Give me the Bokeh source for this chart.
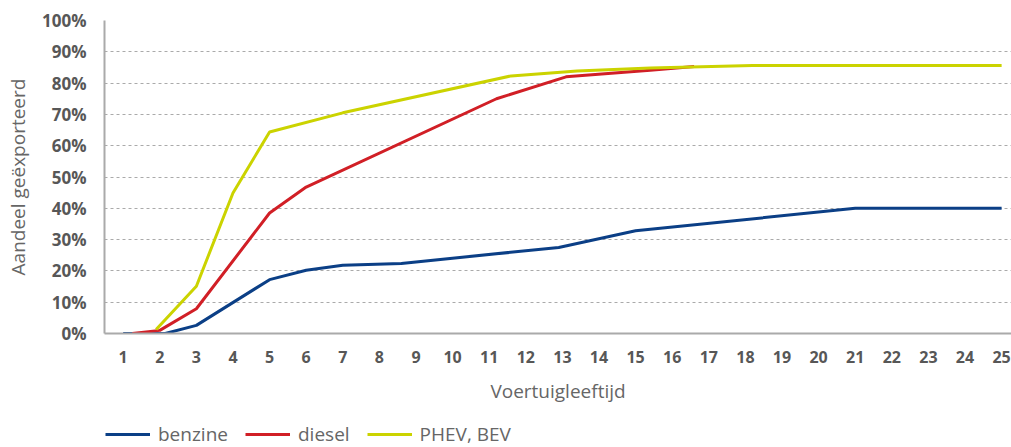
from bokeh.plotting import figure
from bokeh.layouts import column
from bokeh.models import Range1d, FixedTicker, Legend, LegendItem, PrintfTickFormatter
from bokeh.embed import file_html
from bokeh.resources import INLINE

# ---- data ----
age_ticks = list(range(1, 26))
pct_ticks = [0, 10, 20, 30, 40, 50, 60, 70, 80, 90, 100]

benzine_x = [1, 2.15, 3, 5, 6, 7, 8.6, 12.9, 15, 21, 25]
benzine_y = [0, 0, 2.6, 17.2, 20.2, 21.8, 22.4, 27.5, 32.8, 40, 40]

diesel_x = [1.25, 2, 3, 5, 6, 11.2, 13.1, 15.4, 16.6]
diesel_y = [0, 1, 7.9, 38.5, 46.8, 75, 82, 84.1, 85.3]

phev_x = [1.9, 3, 4, 5, 7, 11.6, 13.4, 15.4, 18.2, 25]
phev_y = [1.3, 15.1, 44.9, 64.4, 70.5, 82.3, 83.9, 84.8, 85.6, 85.6]

series_names = ["benzine", "diesel", "PHEV, BEV"]
series_colors = ["#0b3f86", "#d11f26", "#cbd300"]
series_x = [benzine_x, diesel_x, phev_x]
series_y = [benzine_y, diesel_y, phev_y]

FONT = "Open Sans"

p = figure(width=1011, height=410, output_backend="svg", toolbar_location=None,
           x_range=Range1d(0.49, 25.27), y_range=Range1d(0, 100),
           min_border_left=104, min_border_right=0, min_border_top=20, min_border_bottom=77)
p.outline_line_color = None

for xs, ys, c in zip(series_x, series_y, series_colors):
    p.line(xs, ys, line_color=c, line_width=3)

# axes
p.xaxis.ticker = FixedTicker(ticks=age_ticks)
p.yaxis.ticker = FixedTicker(ticks=pct_ticks)
p.yaxis.formatter = PrintfTickFormatter(format="%d%%")

for ax in (p.xaxis[0], p.yaxis[0]):
    ax.axis_line_color = "#aaaaaa"
    ax.axis_line_width = 2
    ax.major_tick_line_color = None
    ax.minor_tick_line_color = None
    ax.major_tick_out = 0
    ax.major_tick_in = 0
    ax.major_label_text_font = FONT
    ax.major_label_text_font_style = "bold"
    ax.major_label_text_color = "#575757"
    ax.axis_label_text_font = FONT
    ax.axis_label_text_font_style = "normal"
    ax.axis_label_text_color = "#666666"
    ax.axis_label_text_font_size = "19px"

p.yaxis.major_label_text_font_size = "17px"
p.xaxis.major_label_text_font_size = "16px"
p.yaxis.major_label_standoff = 18
p.xaxis.major_label_standoff = 17
p.yaxis.axis_label = "Aandeel geëxporteerd"
p.xaxis.axis_label = "Voertuigleeftijd"
p.yaxis.axis_label_standoff = 8
p.xaxis.axis_label_standoff = 12

# grid
p.xgrid.grid_line_color = None
p.ygrid.grid_line_color = "#aaaaaa"
p.ygrid.grid_line_dash = "3 3"
p.ygrid.grid_line_width = 1

# legend strip below the chart
pl = figure(width=1011, height=37, output_backend="svg", toolbar_location=None,
            x_axis_type=None, y_axis_type=None, x_range=p.x_range, y_range=p.y_range,
            min_border_left=104, min_border_right=0, min_border_top=0, min_border_bottom=0)
pl.outline_line_color = None
items = []
for xs, ys, c, name in zip(series_x, series_y, series_colors, series_names):
    r = pl.line(xs, ys, line_color=c, line_width=3, visible=False)
    items.append(LegendItem(label=name, renderers=[r]))

legend = Legend(items=items, orientation="horizontal", location=(1, 0),
                label_text_font=FONT, label_text_font_size="19px", label_text_color="#666666",
                glyph_width=45, glyph_height=20, label_standoff=8, spacing=17,
                padding=0, margin=0, border_line_alpha=0, background_fill_alpha=0,
                inactive_fill_alpha=0)
pl.add_layout(legend, "center")

layout = column(p, pl, spacing=0)
open("out.html", "w").write(file_html(layout, INLINE))
